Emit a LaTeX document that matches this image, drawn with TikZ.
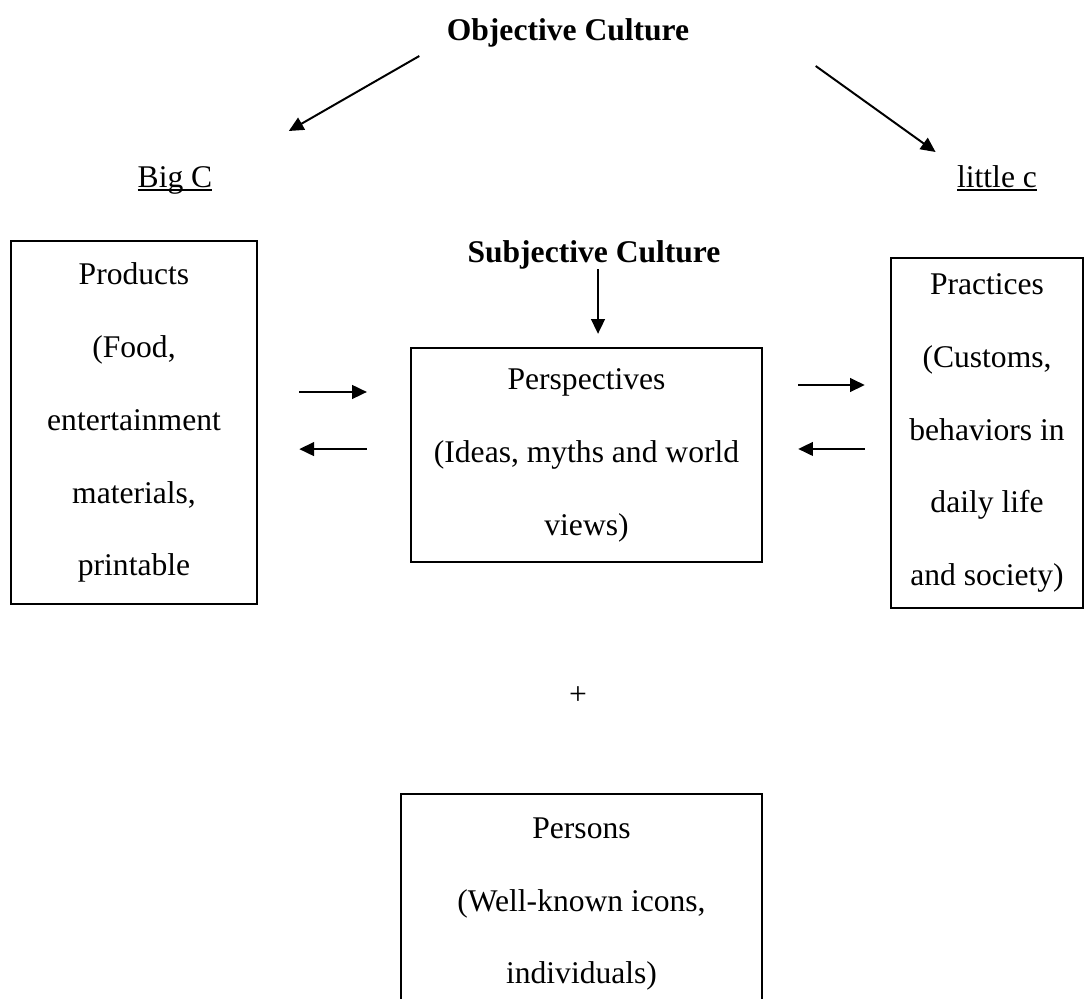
\documentclass[tikz,border=0pt]{standalone}
\usepackage{fontspec}
\setmainfont{Liberation Serif}
\usetikzlibrary{arrows.meta}
\newcommand{\wordul}[1]{{\setbox0\hbox{#1}\rlap{\rule[-1.6pt]{\wd0}{0.75pt}}\box0}}

\begin{document}
\begin{tikzpicture}[
    x=0.38pt, y=-0.38pt,
    every node/.style={font=\fontsize{12}{27.7}\selectfont},
    box/.style={draw, line width=0.9pt, align=center, inner sep=2pt},
    heading/.style={inner sep=0pt, font=\fontsize{12}{27.7}\selectfont\bfseries},
    tag/.style={inner sep=0pt},
    flow/.style={-{Triangle[length=5.6pt,width=5.2pt]}, line width=0.75pt}
  ]
    \useasboundingbox (0,0) rectangle (1086,998);

    \node[heading, anchor=base] (objective) at (568,40) {Objective Culture};
    \node[tag, anchor=base] (bigc) at (175,187) {\wordul{Big C}};
    \node[tag, anchor=base] (littlec) at (997,187) {\wordul{little c}};
    \node[heading, anchor=base] (subjective) at (594,262) {Subjective Culture};

    \node[box, minimum width=93.5pt, minimum height=137.9pt] (products) at (134,422.5)
      {Products\\(Food,\\entertainment\\materials,\\printable};
    \node[box, minimum width=133.4pt, minimum height=81.3pt] (perspectives) at (586.5,455)
      {Perspectives\\(Ideas, myths and world\\views)};
    \node[box, minimum width=73pt, minimum height=133pt] (practices) at (987,433)
      {Practices\\(Customs,\\behaviors in\\daily life\\and society)};
    \node[tag] (plus) at (578,696) {+};
    \node[box, minimum width=137.2pt, minimum height=83.6pt] (persons) at (581.5,904)
      {Persons\\(Well-known icons,\\individuals)};

    \draw[flow] ([shift={(-27,16)}]objective.base west) -- ([shift={(76,-56)}]bigc.base east);
    \draw[flow] ([shift={(126,26)}]objective.base east) -- ([shift={(-21,-35)}]littlec.base west);
    \draw[flow, shorten >=7.6pt] ([shift={(4,7)}]subjective.base) -- ([shift={(4,7)}]subjective.base |- perspectives.north);

    \draw[flow, shorten <=15.6pt, shorten >=16.3pt] ([yshift=11.6pt]products.east) -- ([yshift=11.6pt]products.east -| perspectives.west);
    \draw[flow, shorten <=16.3pt, shorten >=15.6pt] ([yshift=-10.1pt]products.east -| perspectives.west) -- ([yshift=-10.1pt]products.east);
    \draw[flow, shorten <=13.3pt, shorten >=9.5pt] ([yshift=26.6pt]perspectives.east) -- ([yshift=26.6pt]perspectives.east -| practices.west);
    \draw[flow, shorten <=9.5pt, shorten >=13.3pt] ([yshift=2.3pt]perspectives.east -| practices.west) -- ([yshift=2.3pt]perspectives.east);
  \end{tikzpicture}
\end{document}
